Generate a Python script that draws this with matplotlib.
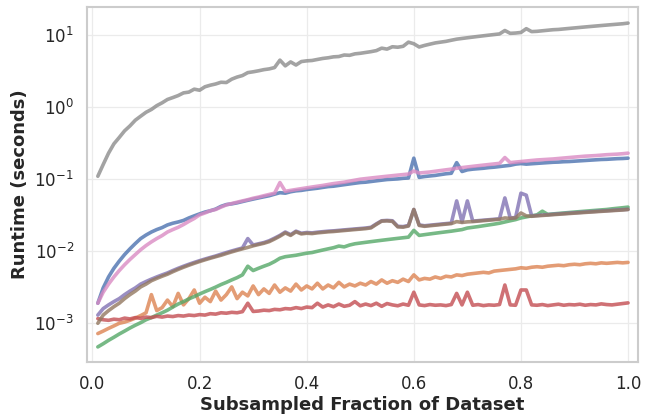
import numpy as np
import matplotlib
matplotlib.use("Agg")
import matplotlib.pyplot as plt
import seaborn as sns

# subsampled fractions 0.01 .. 1.00
fractions = np.linspace(0.01, 1.0, 100)

gray_t = [
    0.11, 0.16, 0.23, 0.31, 0.38, 0.47, 0.55, 0.66, 0.75, 0.85,
    0.93, 1.05, 1.15, 1.28, 1.36, 1.45, 1.58, 1.62, 1.78, 1.72,
    1.92, 2.02, 2.10, 2.22, 2.20, 2.45, 2.62, 2.75, 3.02, 3.10,
    3.20, 3.32, 3.40, 3.55, 4.50, 3.75, 4.25, 3.85, 4.30, 4.40,
    4.45, 4.60, 4.75, 4.85, 5.00, 5.05, 5.30, 5.25, 5.50, 5.60,
    5.75, 5.90, 6.10, 6.60, 6.40, 6.90, 6.80, 7.00, 8.00, 7.60,
    6.85, 7.20, 7.50, 7.80, 8.00, 8.20, 8.50, 8.80, 9.00, 9.20,
    9.40, 9.60, 9.80, 10.0, 10.2, 10.4, 11.6, 10.6, 10.7, 10.9,
    12.3, 11.2, 11.3, 11.5, 11.7, 11.9, 12.0, 12.2, 12.4, 12.6,
    12.8, 13.0, 13.2, 13.4, 13.6, 13.8, 14.0, 14.2, 14.4, 14.7,
]
blue_t = [
    0.0019, 0.0031, 0.0044, 0.0058, 0.0073, 0.0090, 0.0108, 0.0128, 0.0150, 0.0168,
    0.0185, 0.0200, 0.0213, 0.0232, 0.0245, 0.0255, 0.0268, 0.0290, 0.0310, 0.0330,
    0.0350, 0.0365, 0.0385, 0.0420, 0.0445, 0.0455, 0.0470, 0.0490, 0.0510, 0.0530,
    0.0550, 0.0570, 0.0590, 0.0620, 0.0650, 0.0640, 0.0670, 0.0690, 0.0700, 0.0720,
    0.0735, 0.0750, 0.0770, 0.0790, 0.0800, 0.0820, 0.0840, 0.0860, 0.0880, 0.0900,
    0.0910, 0.0930, 0.0950, 0.0970, 0.0990, 0.1000, 0.1010, 0.1030, 0.1040, 0.1960,
    0.1060, 0.1090, 0.1110, 0.1130, 0.1160, 0.1190, 0.1210, 0.1700, 0.1280, 0.1350,
    0.1380, 0.1400, 0.1420, 0.1450, 0.1470, 0.1500, 0.1530, 0.1560, 0.1620, 0.1650,
    0.1620, 0.1640, 0.1660, 0.1680, 0.1700, 0.1720, 0.1730, 0.1750, 0.1760, 0.1780,
    0.1800, 0.1820, 0.1840, 0.1860, 0.1880, 0.1890, 0.1910, 0.1930, 0.1940, 0.1960,
]
orange_t = [
    0.00072, 0.00078, 0.00085, 0.00092, 0.00100, 0.00104, 0.00110, 0.00118, 0.00128, 0.00140,
    0.00250, 0.00150, 0.00165, 0.00210, 0.00170, 0.00260, 0.00180, 0.00220, 0.00290, 0.00190,
    0.00230, 0.00200, 0.00280, 0.00210, 0.00250, 0.00320, 0.00220, 0.00270, 0.00240, 0.00330,
    0.00250, 0.00300, 0.00260, 0.00340, 0.00270, 0.00310, 0.00280, 0.00350, 0.00290, 0.00330,
    0.00300, 0.00360, 0.00300, 0.00340, 0.00310, 0.00370, 0.00320, 0.00350, 0.00330, 0.00360,
    0.00340, 0.00380, 0.00350, 0.00400, 0.00360, 0.00390, 0.00370, 0.00410, 0.00380, 0.00470,
    0.00400, 0.00420, 0.00410, 0.00440, 0.00420, 0.00450, 0.00440, 0.00470, 0.00460, 0.00480,
    0.00490, 0.00500, 0.00510, 0.00500, 0.00530, 0.00540, 0.00550, 0.00560, 0.00570, 0.00590,
    0.00580, 0.00600, 0.00610, 0.00600, 0.00620, 0.00630, 0.00640, 0.00630, 0.00650, 0.00660,
    0.00650, 0.00670, 0.00680, 0.00670, 0.00690, 0.00680, 0.00690, 0.00700, 0.00690, 0.00700,
]
green_t = [
    0.00047, 0.00052, 0.00058, 0.00064, 0.00071, 0.00078, 0.00086, 0.00094, 0.00102, 0.00112,
    0.00120, 0.00130, 0.00140, 0.00152, 0.00168, 0.00185, 0.00200, 0.00218, 0.00235, 0.00255,
    0.00275, 0.00295, 0.00318, 0.00345, 0.00370, 0.00400, 0.00430, 0.00470, 0.00620, 0.00540,
    0.00580, 0.00620, 0.00660, 0.00720, 0.00800, 0.00840, 0.00860, 0.00880, 0.00910, 0.00940,
    0.00960, 0.01000, 0.01040, 0.01080, 0.01120, 0.01180, 0.01150, 0.01220, 0.01270, 0.01300,
    0.01330, 0.01360, 0.01390, 0.01420, 0.01450, 0.01480, 0.01510, 0.01540, 0.01570, 0.01950,
    0.01660, 0.01700, 0.01740, 0.01780, 0.01820, 0.01860, 0.01900, 0.01950, 0.02000, 0.02100,
    0.02150, 0.02200, 0.02260, 0.02320, 0.02380, 0.02450, 0.02550, 0.02650, 0.02750, 0.02900,
    0.03000, 0.03100, 0.03200, 0.03600, 0.03250, 0.03300, 0.03350, 0.03400, 0.03450, 0.03500,
    0.03550, 0.03600, 0.03650, 0.03700, 0.03750, 0.03800, 0.03880, 0.03950, 0.04020, 0.04100,
]
red_t = [
    0.00116, 0.00112, 0.00110, 0.00114, 0.00112, 0.00118, 0.00115, 0.00120, 0.00117, 0.00122,
    0.00120, 0.00125, 0.00122, 0.00126, 0.00124, 0.00128, 0.00126, 0.00130, 0.00128, 0.00132,
    0.00130, 0.00136, 0.00134, 0.00140, 0.00138, 0.00142, 0.00140, 0.00145, 0.00190, 0.00146,
    0.00148, 0.00152, 0.00150, 0.00156, 0.00154, 0.00160, 0.00158, 0.00165, 0.00160, 0.00168,
    0.00165, 0.00190, 0.00168, 0.00180, 0.00170, 0.00185, 0.00172, 0.00178, 0.00200, 0.00175,
    0.00185, 0.00176, 0.00190, 0.00172, 0.00188, 0.00180, 0.00175, 0.00185, 0.00178, 0.00270,
    0.00180, 0.00176, 0.00182, 0.00178, 0.00180, 0.00176, 0.00182, 0.00260, 0.00180, 0.00270,
    0.00178, 0.00182, 0.00176, 0.00180, 0.00178, 0.00182, 0.00340, 0.00180, 0.00178, 0.00290,
    0.00290, 0.00180, 0.00178, 0.00182, 0.00176, 0.00180, 0.00184, 0.00178, 0.00182, 0.00180,
    0.00184, 0.00178, 0.00182, 0.00180, 0.00186, 0.00182, 0.00180, 0.00184, 0.00188, 0.00192,
]
purple_t = [
    0.0013, 0.0016, 0.0018, 0.0020, 0.0022, 0.0025, 0.0028, 0.0031, 0.0035, 0.0038,
    0.0041, 0.0044, 0.0047, 0.0050, 0.0054, 0.0058, 0.0062, 0.0066, 0.0070, 0.0074,
    0.0078, 0.0082, 0.0086, 0.0091, 0.0096, 0.0101, 0.0106, 0.0111, 0.0150, 0.0122,
    0.0127, 0.0132, 0.0140, 0.0152, 0.0166, 0.0185, 0.0170, 0.0190, 0.0178, 0.0182,
    0.0180, 0.0184, 0.0187, 0.0190, 0.0192, 0.0195, 0.0198, 0.0201, 0.0204, 0.0207,
    0.0210, 0.0215, 0.0240, 0.0265, 0.0268, 0.0265, 0.0222, 0.0220, 0.0228, 0.0380,
    0.0232, 0.0226, 0.0230, 0.0234, 0.0238, 0.0242, 0.0246, 0.0500, 0.0255, 0.0500,
    0.0262, 0.0266, 0.0270, 0.0274, 0.0278, 0.0282, 0.0550, 0.0290, 0.0294, 0.0640,
    0.0600, 0.0310, 0.0314, 0.0318, 0.0322, 0.0326, 0.0330, 0.0334, 0.0338, 0.0342,
    0.0346, 0.0350, 0.0354, 0.0358, 0.0362, 0.0366, 0.0370, 0.0374, 0.0378, 0.0382,
]
brown_t = [
    0.0010, 0.0013, 0.0015, 0.0017, 0.0019, 0.0022, 0.0025, 0.0028, 0.0032, 0.0035,
    0.0039, 0.0042, 0.0045, 0.0048, 0.0052, 0.0056, 0.0060, 0.0064, 0.0068, 0.0072,
    0.0076, 0.0080, 0.0084, 0.0088, 0.0093, 0.0098, 0.0103, 0.0108, 0.0113, 0.0119,
    0.0124, 0.0129, 0.0136, 0.0148, 0.0162, 0.0180, 0.0166, 0.0186, 0.0174, 0.0178,
    0.0176, 0.0180, 0.0183, 0.0186, 0.0188, 0.0191, 0.0194, 0.0197, 0.0200, 0.0203,
    0.0206, 0.0211, 0.0236, 0.0262, 0.0264, 0.0260, 0.0218, 0.0216, 0.0224, 0.0380,
    0.0228, 0.0222, 0.0226, 0.0230, 0.0234, 0.0238, 0.0242, 0.0258, 0.0251, 0.0256,
    0.0258, 0.0262, 0.0266, 0.0270, 0.0274, 0.0278, 0.0290, 0.0286, 0.0290, 0.0340,
    0.0310, 0.0306, 0.0310, 0.0314, 0.0318, 0.0322, 0.0326, 0.0330, 0.0334, 0.0338,
    0.0342, 0.0346, 0.0350, 0.0354, 0.0358, 0.0362, 0.0366, 0.0370, 0.0374, 0.0380,
]
pink_t = [
    0.0019, 0.0027, 0.0035, 0.0044, 0.0054, 0.0065, 0.0077, 0.0090, 0.0105, 0.0120,
    0.0135, 0.0150, 0.0165, 0.0185, 0.0200, 0.0215, 0.0235, 0.0260, 0.0285, 0.0320,
    0.0340, 0.0365, 0.0380, 0.0410, 0.0440, 0.0460, 0.0480, 0.0500, 0.0520, 0.0545,
    0.0565, 0.0590, 0.0615, 0.0640, 0.0900, 0.0680, 0.0700, 0.0720, 0.0740, 0.0760,
    0.0780, 0.0800, 0.0820, 0.0845, 0.0870, 0.0890, 0.0910, 0.0940, 0.0970, 0.1000,
    0.1020, 0.1040, 0.1060, 0.1080, 0.1100, 0.1120, 0.1140, 0.1160, 0.1180, 0.1300,
    0.1220, 0.1240, 0.1260, 0.1290, 0.1320, 0.1350, 0.1380, 0.1420, 0.1450, 0.1480,
    0.1510, 0.1540, 0.1570, 0.1600, 0.1630, 0.1660, 0.2000, 0.1700, 0.1730, 0.1760,
    0.1790, 0.1820, 0.1850, 0.1870, 0.1890, 0.1910, 0.1940, 0.1970, 0.2000, 0.2030,
    0.2060, 0.2090, 0.2110, 0.2130, 0.2160, 0.2190, 0.2210, 0.2230, 0.2260, 0.2300,
]

series = [blue_t, orange_t, green_t, red_t, purple_t, brown_t, pink_t, gray_t]

sns.set_theme(style="whitegrid")
colors = sns.color_palette("deep")

fig, ax = plt.subplots(figsize=(6.6, 4.19), dpi=100)
fig.subplots_adjust(left=0.132, right=0.967, top=0.983, bottom=0.136)

for i, ys in enumerate(series):
    ax.plot(fractions, ys, color=colors[i], lw=2.6, alpha=0.8)

ax.set_yscale("log")
ax.set_xlim(-0.01, 1.019)
ax.set_ylim(2.9e-4, 24.5)
ax.set_xticks([0.0, 0.2, 0.4, 0.6, 0.8, 1.0])
ax.tick_params(labelsize=12)
ax.grid(True, which="major", color="#ebebeb", lw=0.9)
ax.set_xlabel("Subsampled Fraction of Dataset", fontsize=13, fontweight="bold", labelpad=2)
ax.set_ylabel("Runtime (seconds)", fontsize=13, fontweight="bold")
for s in ax.spines.values():
    s.set_edgecolor("#cccccc")
    s.set_linewidth(1.5)

fig.savefig("out.png", dpi=100)
